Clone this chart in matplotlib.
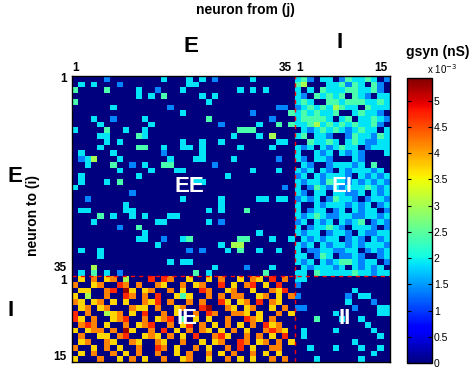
import numpy as np
import matplotlib
matplotlib.use('Agg')
import matplotlib.pyplot as plt

plt.rcParams['font.family'] = ['Liberation Sans', 'DejaVu Sans']

# ---------------- data ----------------
n_exc = 35
n_inh = 15
# value (x 1e-3 nS) for each colour code
levels = [0.0, 0.8, 1.4, 1.9, 2.4, 3.0, 3.7, 4.2, 4.7, 5.3]
cbar_ticks = [0, 0.5, 1, 1.5, 2, 2.5, 3, 3.5, 4, 4.5, 5]
cbar_max = 5.44

# E -> E block (sparse): per target row, list of (source col, code)
EE_cells = [
    [(5, 2), (14, 3), (18, 3), (20, 3), (22, 2), (28, 3)],
    [(1, 3), (3, 3), (7, 2), (18, 3), (19, 3)],
    [(0, 4), (5, 4), (10, 3), (13, 2), (17, 3), (26, 3), (28, 3), (30, 3)],
    [(10, 3), (12, 3), (14, 4), (20, 3), (22, 3)],
    [(0, 4), (21, 3)],
    [(6, 3), (15, 2), (32, 2), (33, 2)],
    [(17, 3), (28, 2), (34, 4)],
    [(3, 3), (6, 2), (11, 3), (21, 4), (31, 2)],
    [(4, 3), (12, 3), (23, 2), (29, 3), (32, 4), (34, 4)],
    [(0, 3), (5, 4), (8, 3), (11, 3), (26, 4), (27, 4), (28, 4)],
    [(4, 3), (5, 3), (10, 4), (11, 3), (25, 3), (29, 3), (31, 5)],
    [(5, 3), (7, 3), (17, 3), (20, 3), (23, 3), (32, 3), (33, 3)],
    [(4, 3), (10, 4), (11, 4), (14, 3), (17, 3), (18, 3), (20, 3), (26, 3), (31, 3)],
    [(1, 3), (6, 3), (14, 2), (20, 3)],
    [(1, 2), (2, 3), (3, 5), (7, 3), (15, 3), (19, 3), (20, 3), (25, 3), (32, 2)],
    [(2, 3), (6, 4), (9, 2), (11, 3), (14, 4), (15, 4), (22, 2)],
    [(7, 3), (12, 3), (16, 3), (17, 3), (28, 3), (32, 3)],
    [(1, 3), (10, 3), (24, 3)],
    [(1, 3), (5, 3), (7, 4), (19, 3), (20, 3)],
    [(0, 3), (33, 2)],
    [(9, 2)],
    [(2, 2), (17, 3), (23, 3), (29, 3), (30, 3), (32, 3), (33, 3)],
    [(8, 3), (23, 3)],
    [(1, 3), (2, 3), (8, 3), (9, 3), (21, 3), (23, 3), (27, 4)],
    [(4, 4), (6, 3), (9, 3), (11, 3), (15, 3), (16, 3)],
    [(3, 3), (13, 3), (14, 3), (21, 3), (23, 2)],
    [(7, 2), (10, 4)],
    [(11, 3), (29, 3)],
    [(10, 3), (11, 3), (14, 2), (17, 3), (18, 4), (26, 4), (27, 4), (31, 3), (34, 3)],
    [(13, 3), (23, 3), (25, 5), (26, 5)],
    [(1, 3), (4, 3), (18, 2), (20, 2), (24, 3), (26, 4), (29, 3), (32, 3)],
    [(4, 3)],
    [(15, 3), (17, 3), (18, 3)],
    [(3, 5), (22, 3), (27, 2), (31, 3)],
    [(1, 3), (3, 4), (5, 3), (7, 2), (19, 4), (21, 3), (30, 4)],
]

# I -> E block (dense), one string per E row, 15 inhibitory columns
EI_rows = [
    "342033024334302", "450003342430420", "303043334433420", "320434340432033",
    "343004434443343", "234343543304333", "343433400343320", "344443034033432",
    "334534343433420", "032343432343303", "340332002433243", "004334303432233",
    "323032343302333", "300323032320003", "320332000320000", "032002333230400",
    "323032032333230", "230323332032323", "323324332323232", "302432323334323",
    "320330332230323", "232302433202332", "300323332323023", "302330230323302",
    "323432233223323", "230323032340232", "302334320333202", "323302332032233",
    "032323302320323", "323032332323332", "302233223302323", "330243022320023",
    "323032344323302", "032333230323230", "330433333433233",
]

# E -> I block (dense), one string per I row, 35 excitatory columns
IE_rows = [
    "06070670500080870060060700607608070",
    "70067008707007600706700806078060800",
    "06600780960670070600870067006007680",
    "60500700870708006460070707700670607",
    "76067060600768070070700860670807600",
    "06706700076607006700890076067006070",
    "80700567060800706007087007760600706",
    "86070067800706780406060070087607000",
    "07870600706780070680706070607086700",
    "60677070960070806070760607060078760",
    "07006607800676070608007860070706080",
    "06700760076007600700606700870670706",
    "70060706007008706007060070806007700",
    "06070070607007006070070607007060600",
    "60007006070600700670060070606007070",
]

# I -> I block (sparse): per I row, list of (I col, code)
II_cells = [
    [(0, 3), (1, 3)],
    [(0, 2)],
    [(9, 3)],
    [(0, 2), (8, 2), (10, 3), (11, 3)],
    [(8, 3), (12, 2)],
    [(0, 2), (1, 2), (9, 2), (13, 3), (14, 3)],
    [(6, 3), (13, 3), (14, 3)],
    [(3, 4), (7, 3), (10, 3)],
    [(11, 3)],
    [(1, 3), (6, 3), (12, 3)],
    [(1, 3), (13, 3)],
    [(9, 3)],
    [(2, 3), (6, 3), (10, 3), (13, 3)],
    [(12, 3)],
    [(3, 3), (10, 3)],
]

# ---------------- build matrix ----------------
N = n_exc + n_inh
W = np.zeros((N, N))
for i, cells in enumerate(EE_cells):
    for j, c in cells:
        W[i, j] = levels[c]
for i, row in enumerate(EI_rows):
    for k, ch in enumerate(row):
        W[i, n_exc + k] = levels[int(ch)]
for i, row in enumerate(IE_rows):
    for k, ch in enumerate(row):
        W[n_exc + i, k] = levels[int(ch)]
for i, cells in enumerate(II_cells):
    for k, c in cells:
        W[n_exc + i, n_exc + k] = levels[c]

# ---------------- figure ----------------
FW, FH = 474, 371
fig = plt.figure(figsize=(FW / 100, FH / 100), dpi=100)

def px(x, y):
    return x / FW, 1 - y / FH

ax = fig.add_axes([72.3 / FW, 1 - 362 / FH, 317.7 / FW, 286 / FH])
im = ax.imshow(W, cmap='jet', vmin=0, vmax=cbar_max, interpolation='nearest',
               aspect='auto')
ax.set_xticks([])
ax.set_yticks([])
for s in ax.spines.values():
    s.set_linewidth(1.0)
    s.set_color('black')

ax.axhline(n_exc - 0.5, color='red', lw=1.0, ls=(0, (3, 3)))
ax.axvline(n_exc - 0.5, color='red', lw=1.0, ls=(0, (3, 3)))

# top index labels
xt = ax.get_xaxis_transform()
for x, s in [(0.0, '1'), (33.0, '35'), (35.3, '1'), (48.0, '15')]:
    ax.text(x, 1.008, s, transform=xt, ha='center', va='bottom',
            fontsize=8.5, fontweight='bold')
# left index labels
yt = ax.get_yaxis_transform()
for y, s in [(0.0, '1'), (33.0, '35'), (35.3, '1'), (48.7, '15')]:
    ax.text(-0.017, y, s, transform=yt, ha='right', va='center',
            fontsize=8.5, fontweight='bold')

# block labels
for (x, y), s in [((189, 186), 'EE'), ((342, 186), 'EI'),
                  ((187, 318), 'IE'), ((345, 318), 'II')]:
    fig.text(*px(x, y), s, ha='center', va='center', color='white',
             fontsize=16, fontweight='bold')

# outer labels
fig.text(*px(245, 10), 'neuron from (j)', ha='center', va='center',
         fontsize=10, fontweight='bold')
fig.text(*px(191, 47), 'E', ha='center', va='center', fontsize=16, fontweight='bold')
fig.text(*px(339.5, 43), 'I', ha='center', va='center', fontsize=16, fontweight='bold')
fig.text(*px(15, 177), 'E', ha='center', va='center', fontsize=16, fontweight='bold')
fig.text(*px(11, 311), 'I', ha='center', va='center', fontsize=16, fontweight='bold')
fig.text(*px(33, 215), 'neuron to (i)', ha='center', va='center', rotation=90,
         fontsize=10, fontweight='bold')

# colorbar
cax = fig.add_axes([406.7 / FW, 1 - 363 / FH, 25 / FW, 285.3 / FH])
cb = fig.colorbar(im, cax=cax, ticks=cbar_ticks)
cb.ax.set_yticklabels([('%g' % t) for t in cbar_ticks])
cb.ax.tick_params(direction='in', left=True, right=True, length=3, width=0.8,
                  labelsize=7.5, pad=1.5)
cb.outline.set_linewidth(1.0)
fig.text(*px(437.5, 52), 'gsyn (nS)', ha='center', va='center',
         fontsize=10, fontweight='bold')
fig.text(*px(442, 69), r'x 10$^{-3}$', ha='center', va='center', fontsize=7)

fig.savefig('out.png', dpi=100)
